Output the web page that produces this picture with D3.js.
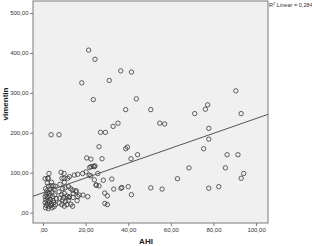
<!DOCTYPE html>
<html>
<head>
<meta charset="utf-8">
<script src="https://cdn.jsdelivr.net/npm/d3@7"></script>
<style>
  body { margin: 0; background: #fff; }
  svg { display: block; font-family: "Liberation Sans", Arial, sans-serif; }
</style>
</head>
<body>
<svg id="chart" width="312" height="246"></svg>
<script>
// AHI vs vimentin
const ahi = [
  1.0, 2.5, 2.8, 1.2, 1.8, 2.5, 3.8, 4.8, 5.8, 2.2, 1.5, 3.0, 4.2, 5.2, 1.0, 2.0, 3.2, 4.5, 5.5, 1.3,
  2.4, 3.5, 4.8, 1.0, 2.0, 3.0, 4.0, 5.0, 1.5, 2.8, 3.8, 5.2, 1.2, 2.5, 4.2, 5.8, 6.2, 3.3, 2.0, 4.0,
  8.5, 9.9, 8.9, 9.9, 10.0, 11.6, 8.0, 9.2, 10.4, 12.0, 7.5, 8.8, 10.0, 11.2, 7.8, 9.2, 10.5, 11.9, 7.6, 8.8,
  10.0, 11.2, 9.6, 12.0, 2.2,
  12.4, 14.7, 13.1, 13.9, 14.1, 14.2, 16.3, 17.0, 18.8, 21.0, 16.3, 15.5, 18.6, 13.9, 20.2, 21.7, 22.5, 24.1, 25.7, 24.9,
  22.4, 13.0, 15.5, 12.4, 16.0,
  20.5, 22.5, 27.7, 21.9, 23.5, 24.4, 26.3, 27.0, 29.3, 24.1, 26.3, 28.3, 25.0, 29.0, 30.2, 29.0, 30.2, 32.3, 33.2, 36.6,
  37.0, 40.0, 41.5, 38.8, 39.6, 41.3, 44.4, 32.9, 35.2, 54.8, 57.1, 38.8, 50.6, 43.8, 23.6, 31.1, 18.2, 21.4, 24.4, 36.5,
  41.5, 3.8, 7.5, 50.6, 55.9, 63.1, 68.5, 71.2, 77.3, 76.2, 90.5, 93.0, 77.8, 77.8, 75.4, 86.4, 91.5, 85.6, 94.2, 93.0,
  77.8, 82.5
];
const vimentin = [
  85, 86, 98, 60, 55, 66, 67, 67, 66, 50, 45, 48, 52, 58, 40, 38, 42, 40, 44, 32,
  30, 33, 30, 25, 22, 26, 22, 25, 18, 16, 18, 15, 12, 10, 12, 20, 35, 58, 74, 76,
  101, 98, 86, 86, 76, 86, 71, 60, 62, 65, 52, 45, 48, 42, 36, 32, 28, 31, 24, 20,
  16, 20, 38, 38, 86,
  90, 94, 21, 16, 38, 48, 96, 44, 44, 40, 40, 52, 98, 56, 102, 94, 115, 115, 98, 69,
  92, 60, 55, 40, 30,
  137, 134, 135, 113, 116, 117, 165, 201, 201, 82, 67, 81, 69, 49, 42, 23, 20, 84, 59, 61,
  63, 65, 45, 160, 164, 135, 145, 216, 224, 224, 222, 258, 258, 285, 283, 331, 325, 407, 384, 355,
  352, 195, 195, 62, 59, 85, 112, 248, 270, 259, 305, 248, 211, 184, 160, 145, 145, 112, 98, 86,
  61, 65
];
const xTicks = [0, 20, 40, 60, 80, 100];
const yTicks = [0, 100, 200, 300, 400, 500];
const fitIntercept = 49.7;
const fitSlope = 1.86;
const rSquared = "0,284";

const svg = d3.select("#chart");
const plotLeft = 33, plotRight = 268, plotTop = 1, plotBottom = 223;

const x = d3.scaleLinear().domain([-4.7, 105.6]).range([plotLeft, plotRight]);
const y = d3.scaleLinear().domain([-26, 530]).range([plotBottom, plotTop]);
const fmt = v => d3.format(".2f")(v).replace(".", ",").replace(/^0,/, ",");

// plot background
svg.append("rect")
   .attr("x", plotLeft).attr("y", plotTop)
   .attr("width", plotRight - plotLeft).attr("height", plotBottom - plotTop)
   .attr("fill", "#f0f0f0")
   .attr("stroke", "#7a7a7a")
   .attr("stroke-width", 1);

// axes
const xAxis = svg.append("g")
   .attr("transform", `translate(0,${plotBottom})`)
   .call(d3.axisBottom(x).tickValues(xTicks).tickFormat(fmt).tickSize(3).tickPadding(2));
const yAxis = svg.append("g")
   .attr("transform", `translate(${plotLeft},0)`)
   .call(d3.axisLeft(y).tickValues(yTicks).tickFormat(fmt).tickSize(3).tickPadding(1.5));
[xAxis, yAxis].forEach(a => {
    a.select(".domain").remove();
    a.selectAll("line").attr("stroke", "#7a7a7a");
    a.selectAll("text").attr("font-size", 6).attr("fill", "#333")
     .attr("font-family", "'Liberation Sans', Arial, sans-serif");
});

// points
const pts = ahi.map((a, i) => ({a: a, v: vimentin[i]}));
svg.append("g").selectAll("circle")
   .data(pts)
   .enter()
   .append("circle")
   .attr("cx", d => x(d.a))
   .attr("cy", d => y(d.v))
   .attr("r", 2.2)
   .attr("fill", "none")
   .attr("stroke", "#3a3a3a")
   .attr("stroke-width", 0.8);

// fit line across the plot
const xd = x.domain();
svg.append("line")
   .attr("x1", x(xd[0])).attr("y1", y(fitIntercept + fitSlope * xd[0]))
   .attr("x2", x(xd[1])).attr("y2", y(fitIntercept + fitSlope * xd[1]))
   .attr("stroke", "#555")
   .attr("stroke-width", 1);

// titles
svg.append("text")
   .attr("x", 146).attr("y", 244)
   .attr("text-anchor", "middle")
   .attr("font-size", 8).attr("font-weight", "bold").attr("fill", "#222")
   .text("AHI");
svg.append("text")
   .attr("transform", "translate(8,104) rotate(-90)")
   .attr("text-anchor", "middle")
   .attr("font-size", 8).attr("font-weight", "bold").attr("fill", "#222")
   .text("vimentin");

// legend
const leg = svg.append("text")
   .attr("x", 269).attr("y", 7)
   .attr("font-size", 5.6).attr("fill", "#333");
leg.append("tspan").text("R");
leg.append("tspan").attr("dy", -2).attr("font-size", 4).text("2");
leg.append("tspan").attr("dy", 2).text(" Linear = " + rSquared);
</script>
</body>
</html>
